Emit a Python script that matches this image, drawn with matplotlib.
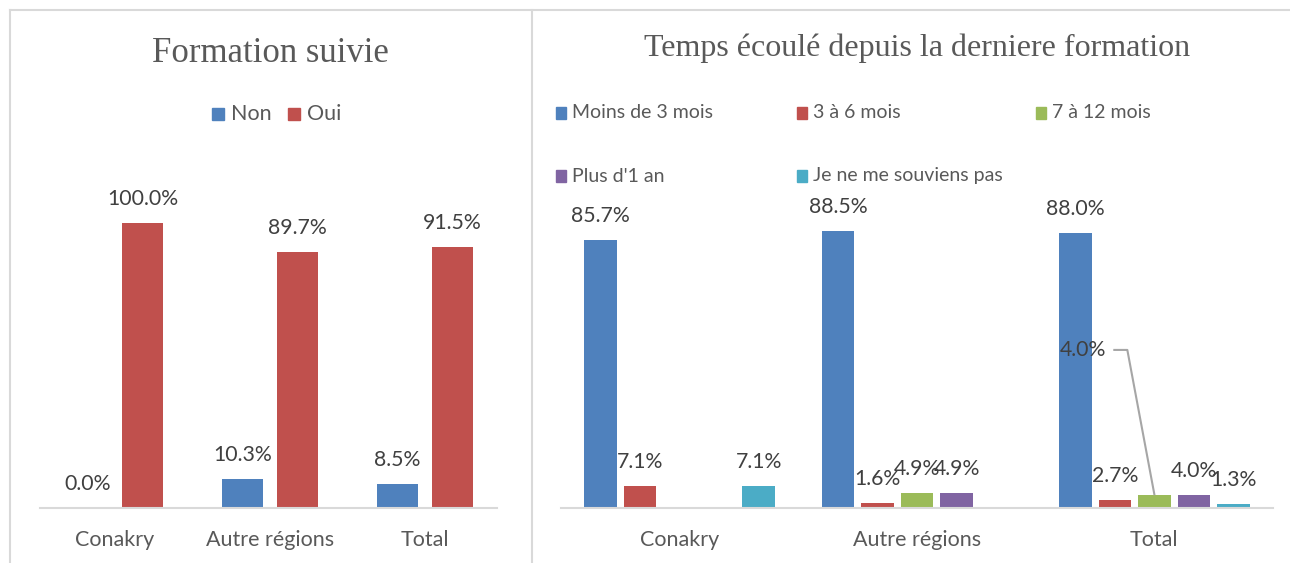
import matplotlib
matplotlib.use("Agg")
import matplotlib.pyplot as plt
import numpy as np
from matplotlib.patches import Rectangle
from matplotlib.lines import Line2D

# ---------------- data ----------------
categories = ["Conakry", "Autre régions", "Total"]

left_title = "Formation suivie"
left_series = ["Non", "Oui"]
left_non = [0.0, 10.3, 8.5]
left_oui = [100.0, 89.7, 91.5]

right_title = "Temps écoulé depuis la derniere formation"
right_series = ["Moins de 3 mois", "3 à 6 mois", "7 à 12 mois", "Plus d'1 an", "Je ne me souviens pas"]
moins_3 = [85.7, 88.5, 88.0]
de_3_a_6 = [7.1, 1.6, 2.7]
de_7_a_12 = [None, 4.9, 4.0]
plus_1an = [None, 4.9, 4.0]
ne_sait_pas = [7.1, None, 1.3]

# ---------------- style ----------------
W, H = 1290, 563
DPI = 100
left_colors = ["#4F81BD", "#C0504D"]
right_colors = ["#4F81BD", "#C0504D", "#9BBB59", "#8064A2", "#4BACC6"]
SANS = ["Lato", "DejaVu Sans"]
SERIF = ["Liberation Serif", "DejaVu Serif"]
LBL = "#404040"
TXT = "#595959"
GRID = "#D9D9D9"
FS_LBL = 15.3
FS_TICK = 15.5

plt.rcParams["font.family"] = SANS

fig = plt.figure(figsize=(W / DPI, H / DPI), dpi=DPI)


def rect(x0, x1, ybot, ytop):
    return [x0 / W, 1 - ybot / H, (x1 - x0) / W, (ybot - ytop) / H]


def px2pt(p):
    return p * 72.0 / DPI


def style_axes(ax):
    for s in ["top", "left", "right"]:
        ax.spines[s].set_visible(False)
    ax.spines["bottom"].set_color(GRID)
    ax.spines["bottom"].set_linewidth(1.5)
    ax.set_yticks([])
    ax.tick_params(axis="x", length=0, pad=px2pt(22), labelsize=FS_TICK, labelcolor=TXT)
    ax.set_ylim(0, 100)
    ax.patch.set_alpha(0)


def label_bars(ax, xs, vals):
    for x, v in zip(xs, vals):
        if v is None or np.isnan(v):
            continue
        ax.annotate(f"{v:.1f}%", (x, v), xytext=(0, px2pt(18)), textcoords="offset points",
                    ha="center", va="baseline", fontsize=FS_LBL, color=LBL, annotation_clip=False)


# ---------------- frame lines ----------------
fig.add_artist(Line2D([10 / W, 1], [1 - 10 / H, 1 - 10 / H], color=GRID, lw=1.5))
fig.add_artist(Line2D([10 / W, 10 / W], [0, 1 - 10 / H], color=GRID, lw=1.5))
fig.add_artist(Line2D([532 / W, 532 / W], [0, 1 - 10 / H], color=GRID, lw=1.5))

# ---------------- left chart ----------------
axL = fig.add_axes(rect(40, 497, 508, 223))
style_axes(axL)
xL = np.arange(len(categories))
offL = 27.5 / 155
wL = 41 / 155
left_vals = [left_non, left_oui]
for k, (name, vals) in enumerate(zip(left_series, left_vals)):
    xs = xL + (k * 2 - 1) * offL
    axL.bar(xs, vals, width=wL, color=left_colors[k], label=name)
    label_bars(axL, xs, vals)
axL.set_xlim(-0.484, 2.465)
axL.set_xticks(xL)
axL.set_xticklabels(categories)

fig.text(270 / W, 1 - 53 / H, left_title, ha="center", va="center",
         fontsize=25, color=TXT, family=SERIF)

# left legend (manual, Excel style)
leg_left_x = [212, 288]
for k, name in enumerate(left_series):
    x0 = leg_left_x[k]
    fig.patches.append(Rectangle((x0 / W, 1 - 120 / H), 12 / W, 12 / H,
                                 transform=fig.transFigure, color=left_colors[k]))
    fig.text((x0 + 19) / W, 1 - 114 / H, name, ha="left", va="center",
             fontsize=15.5, color=TXT)

# ---------------- right chart ----------------
axR = fig.add_axes(rect(561, 1273, 508, 195))
style_axes(axR)
xR = np.arange(len(categories))
stepR = 39.5 / 237.3
wR = 32.5 / 237.3
right_vals = [moins_3, de_3_a_6, de_7_a_12, plus_1an, ne_sait_pas]
for k, (name, vals) in enumerate(zip(right_series, right_vals)):
    xs = xR + (k - 2) * stepR
    v = np.array([np.nan if a is None else a for a in vals], dtype=float)
    axR.bar(xs, np.nan_to_num(v), width=wR, color=right_colors[k], label=name)
    if k == 2:
        # last label (Total) is displaced with a leader line, as in the original
        label_bars(axR, xs[:2], v[:2])
        xt, yt = xs[2], v[2]
        tx = xt - 71 / 237.3
        ty = 50.5
        axR.text(tx, ty, f"{yt:.1f}%", ha="center", va="center", fontsize=FS_LBL, color=LBL)
        axR.plot([xt - 40 / 237.3, xt - 27 / 237.3, xt], [ty, ty, yt + 0.4],
                 color="#A6A6A6", lw=1.5, clip_on=False)
    else:
        label_bars(axR, xs, v)
axR.set_xlim(-0.5, 2.5)
axR.set_xticks(xR)
axR.set_xticklabels(categories)

fig.text(917 / W, 1 - 48 / H, right_title, ha="center", va="center",
         fontsize=23, color=TXT, family=SERIF)

leg_pos = [(556, 113), (797, 113), (1036, 113), (556, 176), (797, 176)]
for k, name in enumerate(right_series):
    x0, yc = leg_pos[k]
    fig.patches.append(Rectangle((x0 / W, 1 - (yc + 5.5) / H), 10 / W, 11 / H,
                                 transform=fig.transFigure, color=right_colors[k]))
    fig.text((x0 + 16) / W, 1 - yc / H, name, ha="left", va="center",
             fontsize=14, color=TXT)

fig.savefig("out.png", dpi=DPI)
